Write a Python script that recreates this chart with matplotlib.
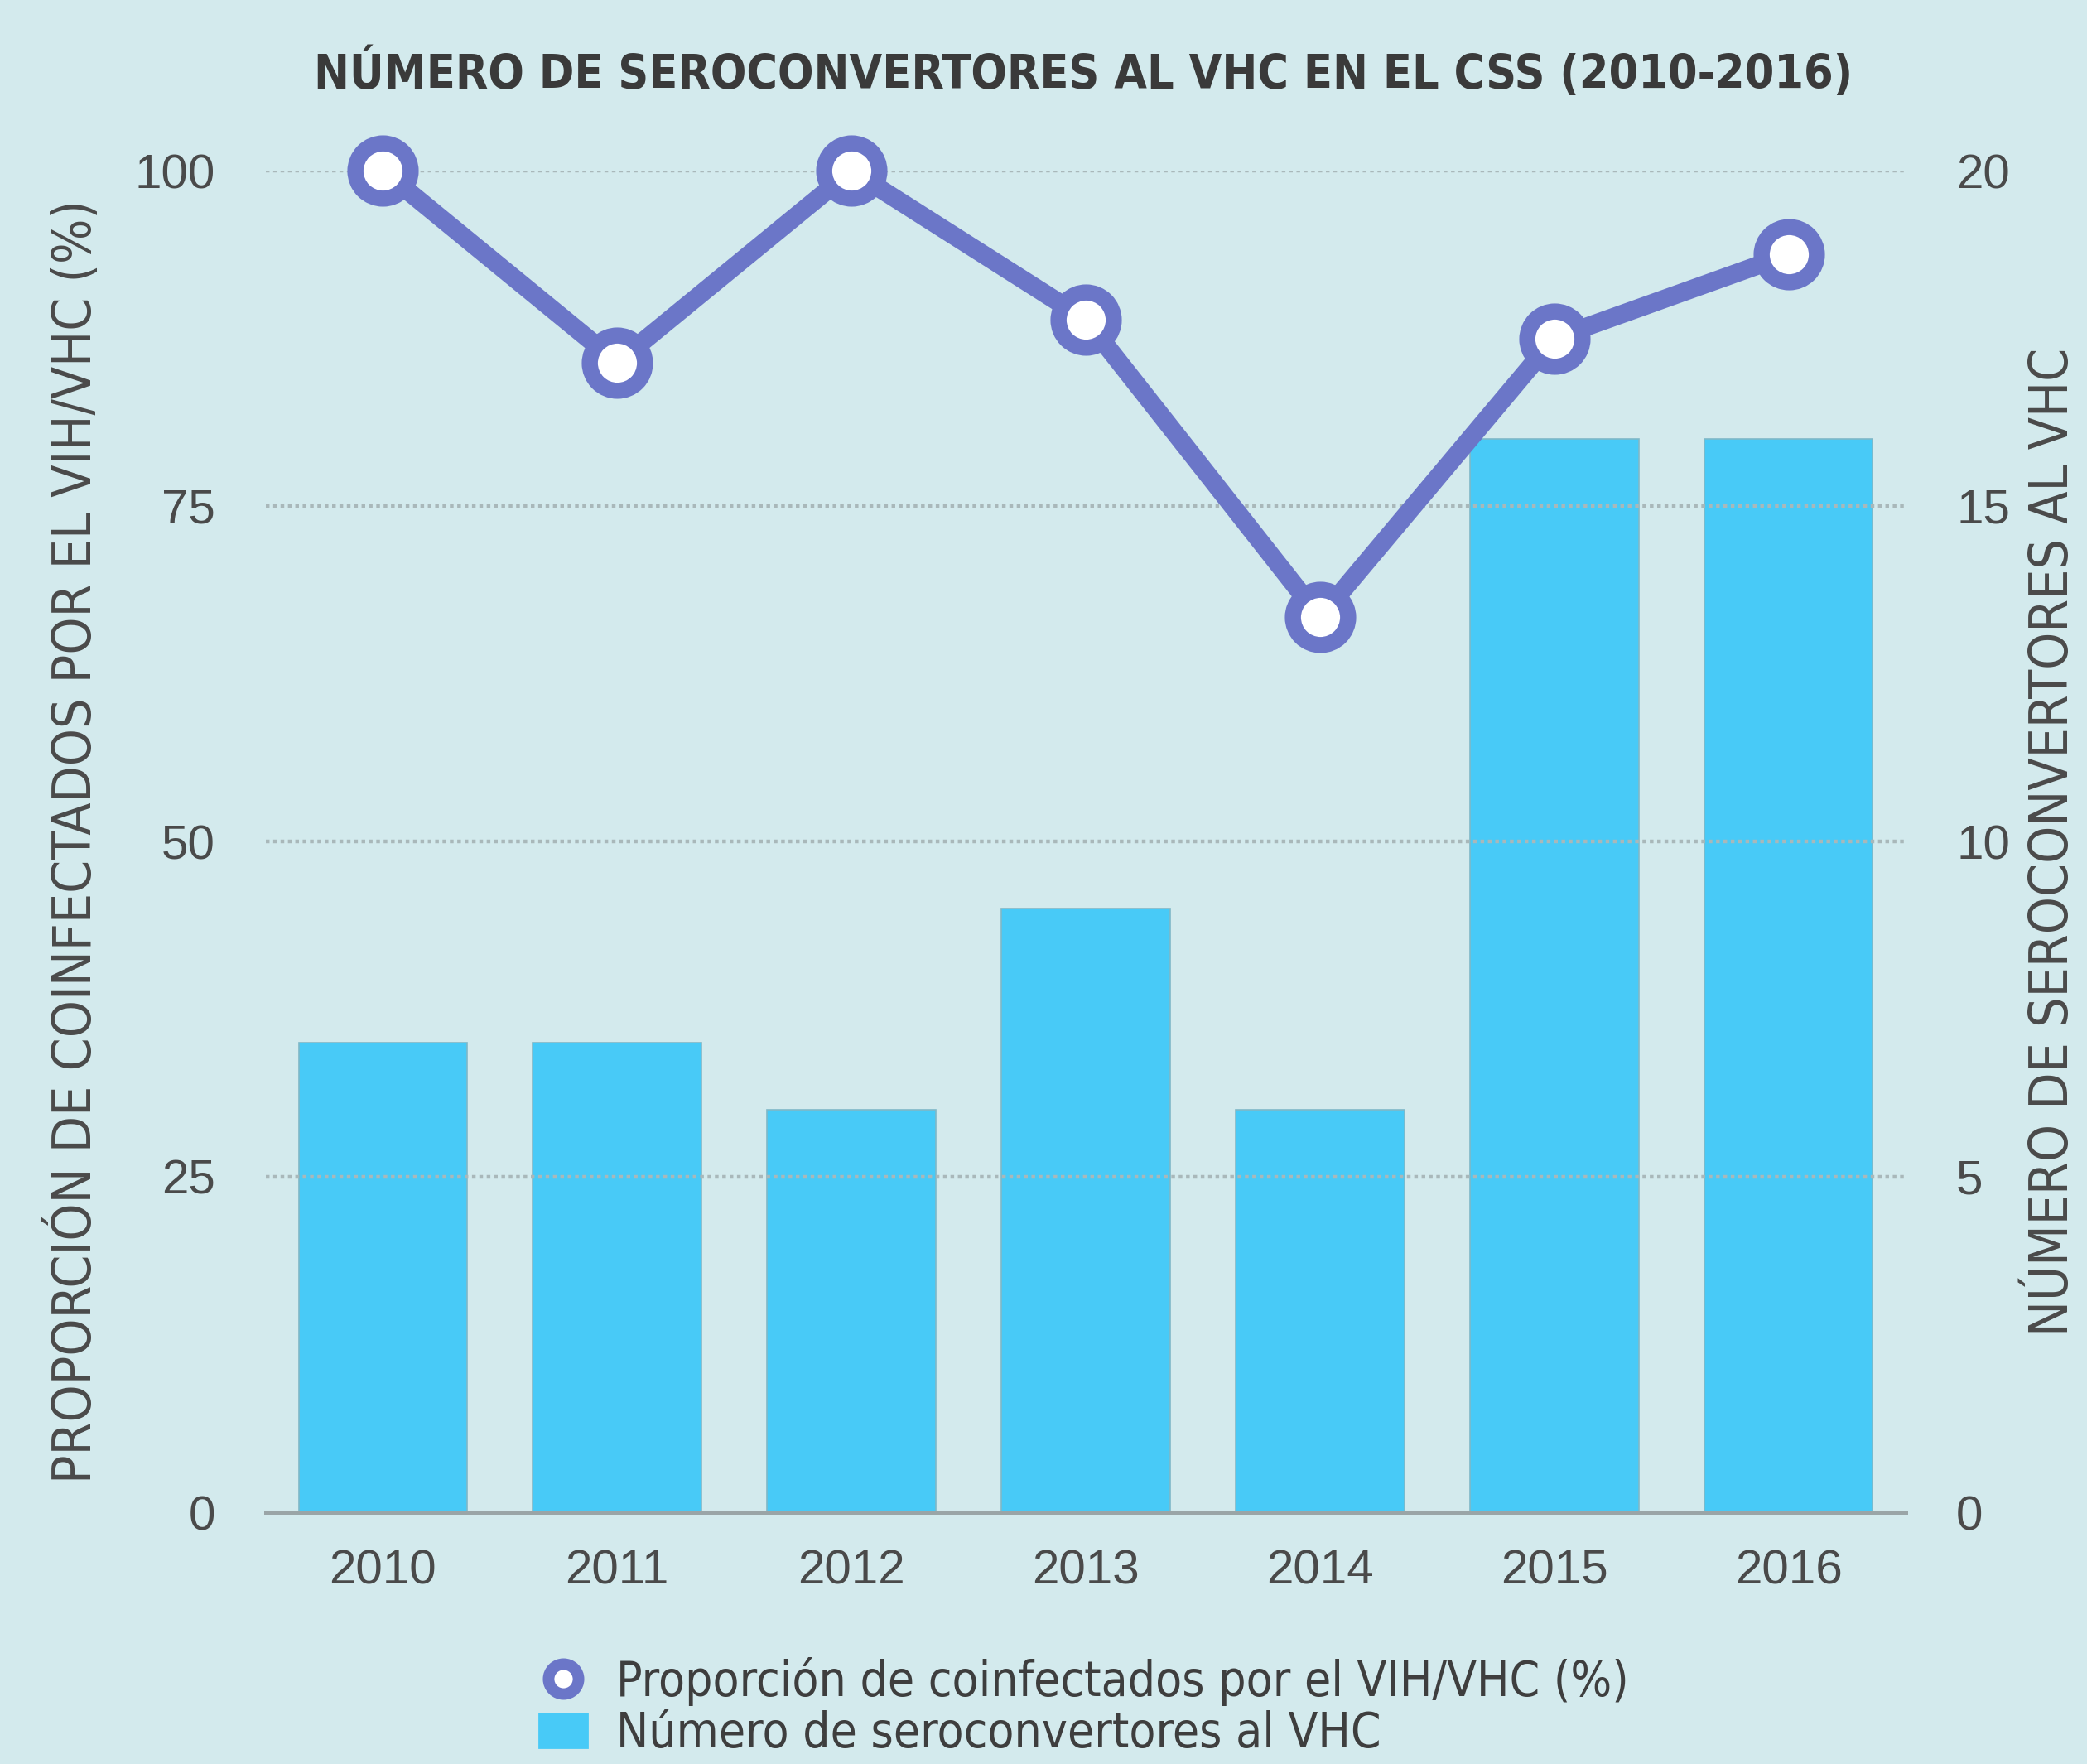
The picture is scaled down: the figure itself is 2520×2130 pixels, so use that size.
import numpy as np
import matplotlib
matplotlib.use('Agg')
import matplotlib.pyplot as plt
from matplotlib.lines import Line2D
from matplotlib.patches import Patch

years = ['2010', '2011', '2012', '2013', '2014', '2015', '2016']
seroconv = [7, 7, 6, 9, 6, 16, 16]                       # right axis (bars)
coinf_pct = [100, 85.7, 100, 88.9, 66.7, 87.5, 93.75]    # left axis (line)

BG = '#d3eaed'
BAR = '#48caf7'
LINE = '#6b76c8'
TXT = '#4a4a4a'

plt.rcParams['font.family'] = ['Liberation Sans', 'DejaVu Sans']
COND = dict(family='DejaVu Sans', fontstretch='condensed')

fig = plt.figure(figsize=(12.6, 10.65), dpi=200, facecolor=BG)
ax = fig.add_axes([321 / 2520, 1 - 1826 / 2130, (2301 - 321) / 2520, (1826 - 206) / 2130])
ax.set_facecolor(BG)
ax2 = ax.twinx()

x = np.arange(len(years))

# bars on the right axis, drawn under the line
ax2.bar(x, seroconv, width=0.72, color=BAR, edgecolor='#7fb8c8', lw=0.6, zorder=2)
ax2.set_ylim(0, 20)
ax2.set_yticks([0, 5, 10, 15, 20])

ax.set_ylim(0, 100)
ax.set_yticks([0, 25, 50, 75, 100])
ax.set_xlim(-0.5, 6.5)
ax.set_xticks(x)
ax.set_xticklabels(years)
for yv in [25, 50, 75, 100]:
    ax.axhline(yv, color='#a9b8ba', lw=1.6, ls=(0, (1, 1)), zorder=0)

# line axis on top of the bar axis
ax.set_zorder(ax2.get_zorder() + 1)
ax.patch.set_visible(False)
ax2.patch.set_visible(False)
ax.plot(x, coinf_pct, color=LINE, lw=8, marker='o', ms=24, mfc='white',
        mec=LINE, mew=7, zorder=5, clip_on=False)

for a in (ax, ax2):
    for s in a.spines.values():
        s.set_visible(False)
    a.tick_params(length=0, labelsize=21, colors=TXT)
ax.spines['bottom'].set_visible(True)
ax.spines['bottom'].set_color('#9aa5a7')
ax.spines['bottom'].set_linewidth(1.8)
ax.tick_params(axis='x', pad=16)
ax.tick_params(axis='y', pad=22)
ax2.tick_params(axis='y', pad=22)

ax.set_ylabel('PROPORCIÓN DE COINFECTADOS POR EL VIH/VHC (%)', fontsize=23,
              color=TXT, **COND)
ax.yaxis.set_label_coords(-0.1, 0.5)
ax2.set_ylabel('NÚMERO DE SEROCONVERTORES AL VHC', fontsize=23, color=TXT, **COND)
ax2.yaxis.set_label_coords(1.074, 0.5)

fig.suptitle('NÚMERO DE SEROCONVERTORES AL VHC EN EL CSS (2010-2016)',
             x=0.519, y=1 - 88 / 2130, va='center', fontsize=20.5,
             color='#3a3a3a', fontweight='bold', **COND)

handles = [
    Line2D([], [], color=LINE, lw=0, marker='o', ms=13, mfc='white', mec=LINE, mew=5),
    Patch(facecolor=BAR, edgecolor=BAR),
]
labels = ['Proporción de coinfectados por el VIH/VHC (%)',
          'Número de seroconvertores al VHC']
fig.legend(handles, labels, loc='upper left', bbox_to_anchor=(598 / 2520, 1 - 1948 / 2130),
           frameon=False, labelcolor='#3e3e3e', handlelength=1.0,
           handletextpad=0.6, labelspacing=0.1,
           prop=dict(size=21, family='DejaVu Sans', stretch='condensed'))

fig.savefig('out.png', dpi=200, facecolor=BG)
